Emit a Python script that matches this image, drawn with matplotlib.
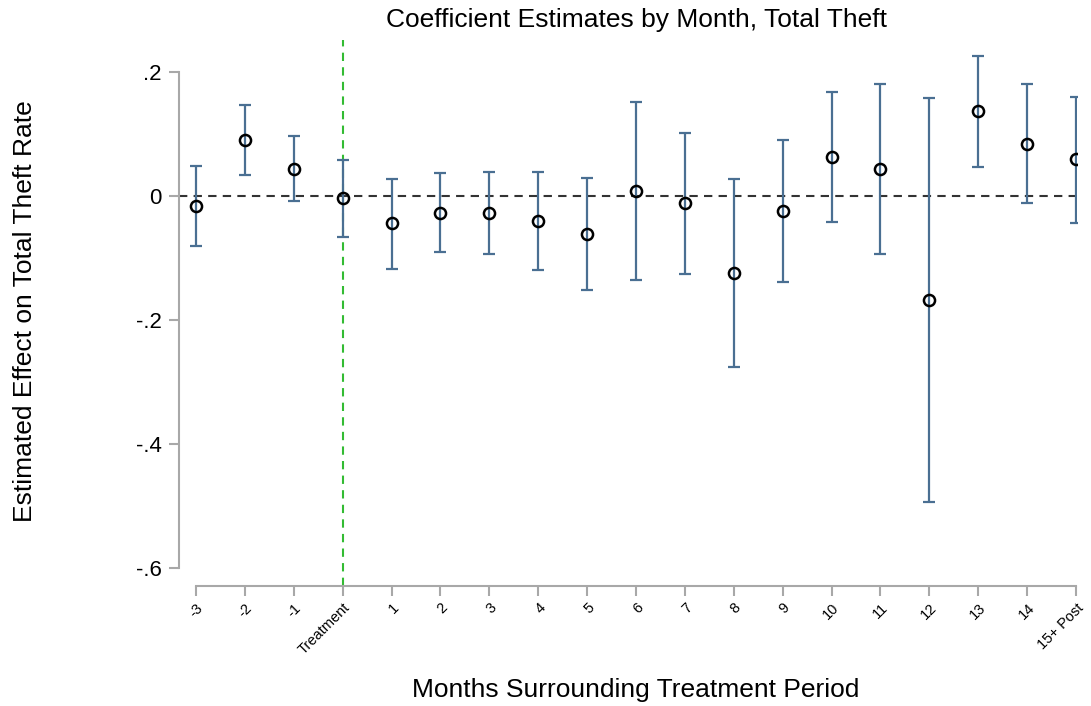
import numpy as np
import matplotlib.pyplot as plt

plt.rcParams['font.family'] = ['Liberation Sans', 'DejaVu Sans']

# coefficient estimates and 95% confidence bounds by event month
labels = ['-3', '-2', '-1', 'Treatment', '1', '2', '3', '4', '5', '6', '7',
          '8', '9', '10', '11', '12', '13', '14', '15+ Post']
coef = [-0.016, 0.090, 0.044, -0.004, -0.044, -0.027, -0.027, -0.040, -0.061,
        0.008, -0.011, -0.124, -0.024, 0.063, 0.043, -0.168, 0.137, 0.084, 0.059]
upper = [0.048, 0.146, 0.096, 0.058, 0.028, 0.037, 0.039, 0.039, 0.029,
         0.152, 0.101, 0.027, 0.090, 0.168, 0.181, 0.158, 0.226, 0.180, 0.159]
lower = [-0.081, 0.034, -0.008, -0.066, -0.117, -0.091, -0.093, -0.119, -0.152,
         -0.135, -0.125, -0.275, -0.138, -0.042, -0.094, -0.494, 0.047, -0.012, -0.043]

x = np.arange(len(labels))
coef = np.array(coef)
err = np.vstack([coef - np.array(lower), np.array(upper) - coef])

fig = plt.figure(figsize=(10.91, 7.06), dpi=100)
ax = fig.add_axes([0.1641, 0.170, 0.8231, 0.7733])

ax.axhline(0, color='#333333', linestyle=(0, (4, 3)), linewidth=1.5, zorder=1, clip_on=False)
ax.axvline(3, color='#33bb33', linestyle=(0, (4, 3)), linewidth=1.5, zorder=1)

ax.errorbar(x, coef, yerr=err, fmt='none', ecolor='#4a6f92', elinewidth=1.6,
            capsize=4, capthick=1.6, zorder=2)
ax.plot(x, coef, 'o', markersize=8, markerfacecolor='none',
        markeredgecolor='black', markeredgewidth=1.8, zorder=3)

ax.set_xlim(-0.348, 18.02)
ax.set_ylim(-0.629, 0.2516)

for s in ['top', 'right']:
    ax.spines[s].set_visible(False)
ax.spines['left'].set_bounds(-0.6, 0.2)
ax.spines['bottom'].set_bounds(0, 18)
for s in ['left', 'bottom']:
    ax.spines[s].set_color('#a8a8a8')
    ax.spines[s].set_linewidth(1.5)

ax.set_yticks([-0.6, -0.4, -0.2, 0, 0.2])
ax.set_yticklabels(['-.6', '-.4', '-.2', '0', '.2'], fontsize=16)
ax.set_xticks(x)
ax.set_xticklabels(labels, rotation=45, ha='right', rotation_mode='anchor', fontsize=10.5)
ax.tick_params(axis='both', color='#a8a8a8', width=1.5, length=7.5)
ax.tick_params(axis='y', pad=5)
ax.tick_params(axis='x', pad=3)

fig.text(0.583, 0.971, 'Coefficient Estimates by Month, Total Theft', fontsize=19,
         ha='center', va='center')
fig.text(0.023, 0.559, 'Estimated Effect on Total Theft Rate', rotation=90,
         fontsize=19, ha='center', va='center')
fig.text(0.583, 0.022, 'Months Surrounding Treatment Period', fontsize=19,
         ha='center', va='center')

fig.savefig('out.png', dpi=100)
